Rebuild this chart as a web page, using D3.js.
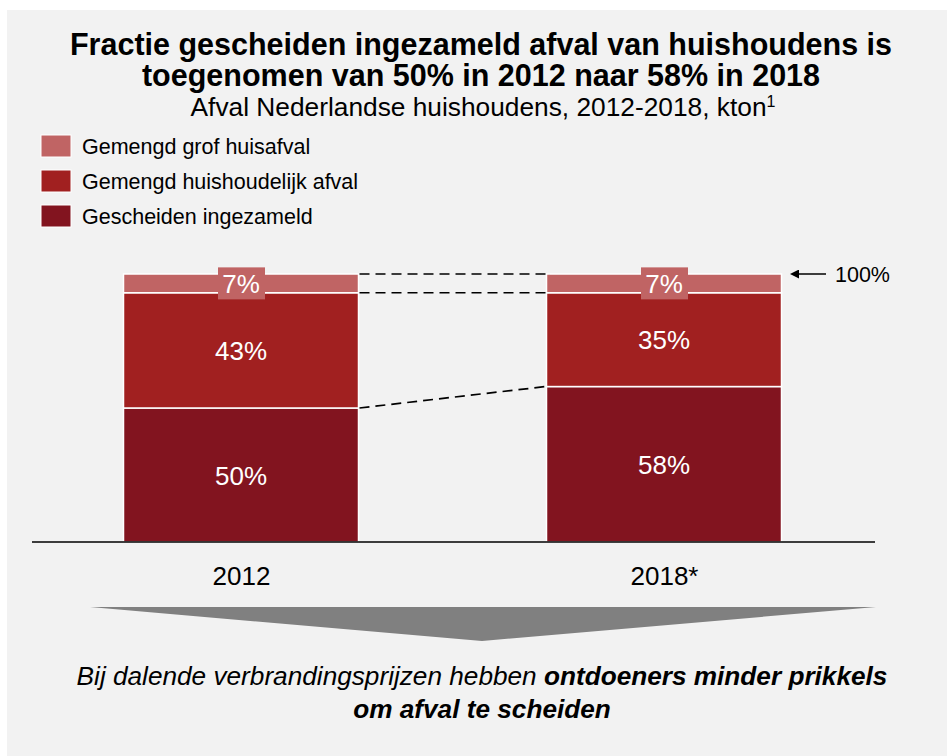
<!DOCTYPE html>
<html>
<head>
<meta charset="utf-8">
<script src="https://cdn.jsdelivr.net/npm/d3@7"></script>
<style>
  body { margin: 0; background: #ffffff; }
  svg { display: block; font-family: "Liberation Sans", Arial, sans-serif; }
</style>
</head>
<body>
<svg id="chart"></svg>
<script>
let years = ["2012", "2018*"];
let seriesNames = ["Gescheiden ingezameld", "Gemengd huishoudelijk afval", "Gemengd grof huisafval"];
let gescheiden = [50, 58];
let huishoudelijk = [43, 35];
let grof = [7, 7];
let colors = ["#82141f", "#a12020", "#c06464"];

let width = 947;
let height = 756;
let barWidth = 235;

let svg = d3.select("#chart")
    .attr("width", width)
    .attr("height", height)

// grey panel
svg.append("rect")
    .attr("x", 7)
    .attr("y", 10)
    .attr("width", width - 7)
    .attr("height", height - 10)
    .style("fill", "#f2f2f2")

// titles
svg.append("text")
    .attr("x", 481).attr("y", 55)
    .attr("text-anchor", "middle")
    .style("font-size", "30.5px").style("font-weight", "bold")
    .text("Fractie gescheiden ingezameld afval van huishoudens is")
svg.append("text")
    .attr("x", 481).attr("y", 86)
    .attr("text-anchor", "middle")
    .style("font-size", "30.5px").style("font-weight", "bold")
    .text("toegenomen van 50% in 2012 naar 58% in 2018")
let sub = svg.append("text")
    .attr("x", 483).attr("y", 116)
    .attr("text-anchor", "middle")
    .style("font-size", "26.3px")
sub.append("tspan").text("Afval Nederlandse huishoudens, 2012-2018, kton")
sub.append("tspan").attr("dy", -9).style("font-size", "16px").text("1")

// legend (top to bottom: grof, huishoudelijk, gescheiden)
let legendOrder = [2, 1, 0];
legendOrder.forEach((s, i) => {
    let y = 135 + i * 35;
    svg.append("rect")
        .attr("x", 41).attr("y", y)
        .attr("width", 30).attr("height", 22)
        .style("fill", colors[s])
        .style("stroke", "#ffffff").style("stroke-width", 1)
    svg.append("text")
        .attr("x", 82).attr("y", y + 19)
        .style("font-size", "21.5px")
        .text(seriesNames[s])
})

// scales
let xScale = d3.scalePoint()
    .domain(years)
    .range([241, 664])

let yScale = d3.scaleLinear()
    .domain([0, 100])
    .range([542, 274])

let rows = years.map((y, i) => ({ year: y, v: [gescheiden[i], huishoudelijk[i], grof[i]] }));
let stack = d3.stack().keys([0, 1, 2]).value((d, k) => d.v[k]);
let stacked = stack(rows);

let layers = svg.selectAll(".layer")
    .data(stacked)
    .enter()
    .append("g")
    .attr("class", "layer")
    .style("fill", (d, i) => colors[i])

layers.selectAll("rect")
    .data(d => d)
    .enter()
    .append("rect")
    .attr("x", d => xScale(d.data.year) - barWidth / 2)
    .attr("width", barWidth)
    .attr("y", d => yScale(d[1]))
    .attr("height", d => yScale(d[0]) - yScale(d[1]))
    .style("stroke", "#ffffff")
    .style("stroke-width", 1.5)

// dashed connector lines
let leftEdge = xScale(years[0]) + barWidth / 2 + 1;
let rightEdge = xScale(years[1]) - barWidth / 2 - 1;
let connectors = [
    [100, 100],
    [gescheiden[0] + huishoudelijk[0], gescheiden[1] + huishoudelijk[1]],
    [gescheiden[0], gescheiden[1]]
];
connectors.forEach(c => {
    svg.append("line")
        .attr("x1", leftEdge).attr("x2", rightEdge)
        .attr("y1", yScale(c[0])).attr("y2", yScale(c[1]))
        .style("stroke", "#000").style("stroke-width", 1.7)
        .style("stroke-dasharray", "10,6")
})

// value labels
stacked.forEach((layer, s) => {
    layer.forEach(d => {
        let cx = xScale(d.data.year);
        let cy = (yScale(d[0]) + yScale(d[1])) / 2;
        let label = (d[1] - d[0]) + "%";
        if (s === 2) {
            svg.append("rect")
                .attr("x", cx - 23).attr("y", cy - 16)
                .attr("width", 47).attr("height", 32)
                .style("fill", colors[2])
        }
        svg.append("text")
            .attr("x", cx).attr("y", cy + 9.5)
            .attr("text-anchor", "middle")
            .style("fill", "#ffffff")
            .style("font-size", "26px")
            .text(label)
    })
})

// baseline axis
let xAxis = d3.axisBottom(xScale).tickSize(0).tickPadding(25);
let axisG = svg.append("g")
    .attr("transform", "translate(0," + yScale(0) + ")")
    .call(xAxis)
axisG.select(".domain").remove()
axisG.append("line")
    .attr("x1", 32).attr("x2", 875)
    .style("stroke", "#000").style("stroke-width", 1.5)
axisG.selectAll(".tick text")
    .style("font-size", "26px")
    .style("fill", "#000")
    .style("font-family", "\"Liberation Sans\", Arial, sans-serif")

// 100% arrow
let defs = svg.append("defs")
defs.append("marker")
    .attr("id", "arrowhead")
    .attr("viewBox", "0 0 10 10")
    .attr("refX", 0).attr("refY", 5)
    .attr("markerWidth", 6).attr("markerHeight", 6)
    .attr("orient", "auto-start-reverse")
    .append("path")
    .attr("d", "M0,0 L10,5 L0,10 z")
    .style("fill", "#000")
svg.append("line")
    .attr("x1", 826).attr("x2", 799)
    .attr("y1", yScale(100)).attr("y2", yScale(100))
    .style("stroke", "#000").style("stroke-width", 1.5)
    .attr("marker-end", "url(#arrowhead)")
svg.append("text")
    .attr("x", 835).attr("y", yScale(100) + 8)
    .style("font-size", "21.5px")
    .text("100%")

// grey chevron
svg.append("path")
    .attr("d", "M90,607 L876,607 L482,641 Z")
    .style("fill", "#808080")

// conclusion text
let c1 = svg.append("text")
    .attr("x", 482).attr("y", 685)
    .attr("text-anchor", "middle")
    .style("font-size", "26.2px").style("font-style", "italic")
c1.append("tspan").text("Bij dalende verbrandingsprijzen hebben ")
c1.append("tspan").style("font-weight", "bold").text("ontdoeners minder prikkels")
svg.append("text")
    .attr("x", 482).attr("y", 718)
    .attr("text-anchor", "middle")
    .style("font-size", "26.2px").style("font-style", "italic").style("font-weight", "bold")
    .text("om afval te scheiden")
</script>
</body>
</html>
